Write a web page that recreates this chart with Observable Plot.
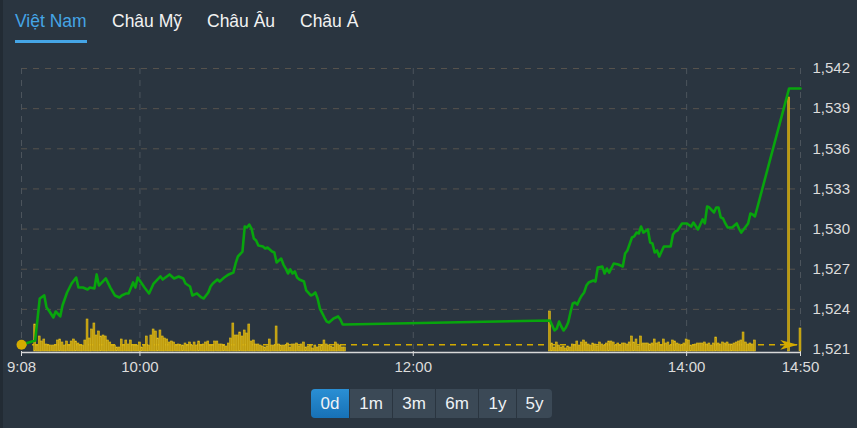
<!DOCTYPE html>
<html>
<head>
<meta charset="utf-8">
<script src="https://cdn.jsdelivr.net/npm/d3@7"></script>
<script src="https://cdn.jsdelivr.net/npm/@observablehq/plot@0.6"></script>
<style>
  html, body { margin: 0; padding: 0; }
  body { width: 857px; height: 428px; background: #2a3540; position: relative; overflow: hidden;
         font-family: "Liberation Sans", Arial, sans-serif; }
  #edge { position: absolute; left: 0; top: 0; width: 3px; height: 428px; background: #222b34; }
  .tab { position: absolute; top: 11px; font-size: 17.5px; color: #f2f2f2; white-space: nowrap; }
  .tab.active { color: #45a5e6; }
  #underline { position: absolute; left: 15px; top: 40px; width: 72px; height: 3px; background: #45a5e6; }
  .layer { position: absolute; left: 0; top: 48px; }
  #btns { position: absolute; left: 311px; top: 389px; height: 29px; display: flex; border-radius: 4px; overflow: hidden; }
  .btn { height: 29px; line-height: 29px; text-align: center; font-size: 17px; color: #eef2f5;
         background: #3b4956; border-left: 1px solid #2a3540; box-sizing: border-box; }
  .btn:first-child { border-left: none; }
  .btn.active { background: linear-gradient(#2a8fd4, #1771b6); }
</style>
</head>
<body>
<div id="edge"></div>
<div id="tabs"></div>
<div id="underline"></div>
<div id="chart"></div>
<div id="btns"></div>
<script>
// ---------------- data ----------------
const tabs = ["Việt Nam", "Châu Mỹ", "Châu Âu", "Châu Á"];
const tabLeft = [15, 112, 207, 300];
const ranges = ["0d", "1m", "3m", "6m", "1y", "5y"];
const rangeWidths = [38, 43, 43, 43, 38, 36];

const xTickTimes = ["09:08", "10:00", "12:00", "14:00", "14:50"];
const xTickLabels = ["9:08", "10:00", "12:00", "14:00", "14:50"];
const yTicks = [1521, 1524, 1527, 1530, 1533, 1536, 1539, 1542];

const refPrice = 1521.35;

const priceTimes = [
  "09:08","09:14","09:16","09:18","09:19","09:20","09:22","09:23","09:25","09:26",
  "09:28","09:30","09:32","09:33","09:35","09:37","09:38","09:40","09:41","09:42",
  "09:45","09:47","09:49","09:51","09:52","09:54","09:55","09:57","09:58","09:59",
  "10:02","10:03","10:04","10:06","10:09","10:10","10:13","10:15","10:17","10:19",
  "10:20","10:22","10:23","10:25","10:27","10:28","10:30","10:31","10:32","10:34",
  "10:35","10:37","10:39","10:41","10:42","10:43","10:45","10:46","10:47","10:48",
  "10:49","10:50","10:51","10:52","10:54","10:55","10:56","10:58","10:59","11:00",
  "11:01","11:02","11:03","11:04","11:05","11:06","11:07","11:08","11:09","11:10",
  "11:12","11:13","11:15","11:16","11:17","11:18","11:19","11:21","11:22","11:23",
  "11:25","11:26","11:27","11:28","11:29","11:30",
  "13:00","13:01","13:02","13:03","13:04","13:05","13:06","13:07","13:08","13:09",
  "13:10","13:11","13:12","13:13","13:14","13:15","13:16","13:17","13:19","13:20",
  "13:21","13:23","13:24","13:25","13:26","13:28","13:30","13:32","13:33","13:34",
  "13:36","13:37","13:38","13:39","13:40","13:41","13:43","13:44","13:45","13:46",
  "13:47","13:48","13:50","13:51","13:53","13:54","13:55","13:56","13:58","13:59",
  "14:00","14:02","14:03","14:05","14:06","14:07","14:08","14:09","14:10","14:12",
  "14:13","14:14","14:15","14:16","14:17","14:18","14:20","14:22","14:23","14:24",
  "14:25","14:26","14:27","14:28","14:29","14:30","14:45","14:50"
];
const priceValues = [
  1521.35,1521.67,1524.81,1525.04,1524.14,1523.91,1523.39,1523.84,1523.47,1524.29,
  1525.26,1525.93,1526.38,1525.63,1525.63,1525.48,1525.63,1525.56,1526.61,1525.78,
  1526.31,1525.63,1525.04,1524.89,1525.04,1525.19,1525.19,1526.01,1525.63,1526.38,
  1525.63,1525.41,1525.19,1525.93,1526.46,1526.23,1526.61,1526.31,1526.46,1526.31,
  1525.93,1525.71,1525.04,1525.19,1524.89,1524.81,1525.26,1525.71,1525.93,1526.23,
  1526.08,1526.38,1526.61,1526.75,1527.43,1527.95,1528.32,1530.19,1530.12,1530.34,
  1530.04,1529.30,1529.15,1528.77,1528.70,1528.55,1528.62,1528.32,1528.25,1527.50,
  1527.65,1527.80,1527.35,1527.05,1526.68,1526.98,1526.68,1526.83,1526.38,1526.23,
  1526.08,1525.41,1525.04,1525.11,1525.26,1524.81,1524.06,1523.39,1523.09,1523.02,
  1523.32,1523.39,1523.47,1523.24,1522.87,1522.87,
  1523.17,1522.79,1522.42,1522.57,1523.09,1522.72,1522.42,1522.64,1523.02,1523.77,
  1524.44,1524.51,1524.36,1524.74,1525.04,1525.26,1525.78,1526.01,1526.16,1526.08,
  1527.13,1527.20,1526.68,1527.05,1526.75,1527.43,1527.35,1527.20,1528.17,1528.40,
  1529.37,1529.45,1529.74,1529.67,1530.19,1529.74,1529.97,1528.99,1528.92,1528.25,
  1528.40,1527.95,1528.70,1528.70,1528.70,1529.59,1529.82,1529.89,1530.42,1530.42,
  1530.42,1530.19,1530.49,1529.97,1530.34,1530.72,1530.42,1531.69,1531.61,1531.24,
  1531.61,1531.61,1530.87,1530.79,1530.42,1530.12,1530.12,1530.42,1530.04,1529.74,
  1529.97,1530.19,1530.42,1531.16,1531.09,1530.94,1540.51,1540.51
];

// volume (relative units), one bar per minute from the session start
const volMorningStart = "09:14";
const volMorning = [
  27,6,15,10,12,7,6,6,6,6,11,12,9,6,10,6,10,12,10,8,6,6,11,32,13,22,28,16,20,15,
  16,15,11,9,6,6,4,4,12,6,11,7,11,6,6,6,9,4,6,15,6,16,22,20,13,21,15,13,12,9,
  10,9,6,7,6,6,8,6,9,6,9,6,10,
  6,7,9,10,6,6,10,10,7,7,6,5,8,13,28,16,16,19,15,21,18,27,10,11,7,7,6,5,4,5,
  12,6,6,25,7,6,6,6,8,4,7,7,8,5,7,9,4,5,6,3,6,4,5,6,11,7,6,5,4,9,7,6,4,4
];
const volAfternoonStart = "13:00";
const volAfternoon = [
  40,8,4,9,6,4,5,3,5,4,7,6,10,6,9,11,9,7,6,8,7,5,9,7,6,8,10,10,9,6,
  8,6,8,8,7,9,15,9,12,5,15,8,8,8,7,8,12,8,9,6,12,8,9,6,11,10,8,7,6,8,
  12,11,6,6,7,8,8,8,9,7,8,6,8,14,8,7,9,8,9,7,7,8,9,10,11,19,9,7,8,7,11
];
const volAtcTimes = ["14:45", "14:50"];
const volAtc = [254, 23];

// ---------------- helpers ----------------
const T = s => { const [h, m] = s.split(":").map(Number); return new Date(Date.UTC(2020, 0, 1, h, m)); };
const MIN = 60000;
const price = priceTimes.map((t, i) => ({t: T(t), p: priceValues[i]}));
const vol = [
  ...volMorning.map((v, i) => ({t: new Date(+T(volMorningStart) + i * MIN), v})),
  ...volAfternoon.map((v, i) => ({t: new Date(+T(volAfternoonStart) + i * MIN), v})),
  ...volAtcTimes.map((t, i) => ({t: T(t), v: volAtc[i]}))
];
const xDomain = [T("09:08"), T("14:50")];
const fmtX = new Map(xTickTimes.map((t, i) => [+T(t), xTickLabels[i]]));

const W = 857, H = 336;
const common = {
  width: W, height: H, marginLeft: 21, marginRight: 57,
  style: {background: "transparent", color: "#dcdcdc", fontFamily: "'Liberation Sans', Arial, sans-serif", fontSize: "15px", overflow: "visible"}
};
const xScale = {type: "utc", domain: xDomain};

const arrowSymbol = {
  draw(ctx, size) {
    const s = Math.sqrt(size);
    ctx.moveTo(s, 0);
    ctx.lineTo(-s, -0.55 * s);
    ctx.lineTo(-0.45 * s, 0);
    ctx.lineTo(-s, 0.55 * s);
    ctx.closePath();
  }
};

// Layer 1: price grid, reference line, y axis
const priceBase = Plot.plot({
  ...common, marginTop: 20, marginBottom: 35,
  x: {...xScale, axis: null},
  y: {domain: [1521, 1542], axis: "right", ticks: yTicks, tickFormat: d3.format(","), tickSize: 0, tickPadding: 12, label: null},
  marks: [
    Plot.ruleY(yTicks.filter(d => d > 1521), {stroke: "#56524c", strokeDasharray: "6,6"}),
    Plot.ruleX(xTickTimes.map(T), {stroke: "#4c545c", strokeDasharray: "6,6"}),
    Plot.ruleY([refPrice], {x1: xDomain[0], x2: xDomain[1], stroke: "#d2aa00", strokeWidth: 1.4, strokeDasharray: "6,5"})
  ]
});

// Layer 2: volume bars + x axis
const volPlot = Plot.plot({
  ...common, marginTop: 49, marginBottom: 33,
  x: {...xScale, ticks: xTickTimes.map(T), tickFormat: d => fmtX.get(+d), tickSize: 5, tickPadding: 5, label: null},
  y: {domain: [0, 254], axis: null},
  marks: [
    Plot.rectY(vol, {x1: d => new Date(+d.t - MIN / 2), x2: d => new Date(+d.t + MIN / 2), y: "v",
      fill: "#bd990b", stroke: "#e2bf1e", strokeWidth: 0.6, insetLeft: 0.2, insetRight: 0.2}),
    Plot.ruleY([0], {stroke: "#d8d8d8", strokeWidth: 1.6, dy: 1})
  ]
});

// Layer 3: price line, start dot, end arrow
const priceTop = Plot.plot({
  ...common, marginTop: 20, marginBottom: 35,
  x: {...xScale, axis: null},
  y: {domain: [1521, 1542], axis: null},
  marks: [
    Plot.line(price, {x: "t", y: "p", stroke: "#08a50d", strokeWidth: 2.6, curve: "linear"}),
    Plot.dot([{t: T("09:08"), p: refPrice}], {x: "t", y: "p", r: 5, fill: "#d4ab00", stroke: null}),
    Plot.dot([{t: T("14:45"), p: refPrice}], {x: "t", y: "p", r: 5, symbol: arrowSymbol, fill: "#d4ab00", stroke: null})
  ]
});

const chart = document.getElementById("chart");
for (const svg of [priceBase, volPlot, priceTop]) {
  svg.classList.add("layer");
  chart.appendChild(svg);
}

// tabs
const tabsDiv = document.getElementById("tabs");
tabs.forEach((t, i) => {
  const d = document.createElement("div");
  d.className = "tab" + (i === 0 ? " active" : "");
  d.style.left = tabLeft[i] + "px";
  d.textContent = t;
  tabsDiv.appendChild(d);
});

// range buttons
const btns = document.getElementById("btns");
ranges.forEach((r, i) => {
  const b = document.createElement("div");
  b.className = "btn" + (i === 0 ? " active" : "");
  b.style.width = rangeWidths[i] + "px";
  b.textContent = r;
  btns.appendChild(b);
});
</script>
</body>
</html>
